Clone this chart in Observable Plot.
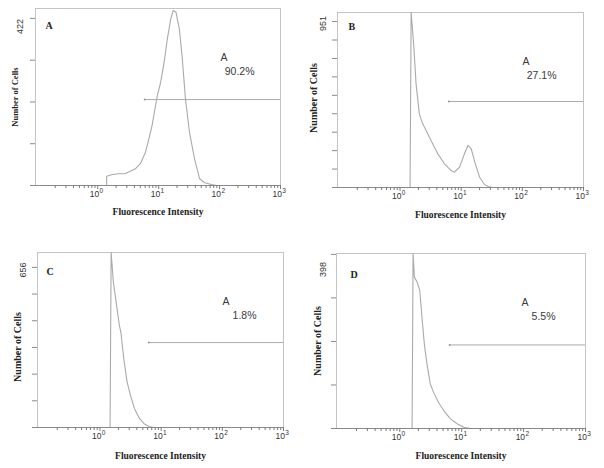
<!DOCTYPE html>
<html>
<head>
<meta charset="utf-8">
<script src="https://cdn.jsdelivr.net/npm/d3@7"></script>
<script src="https://cdn.jsdelivr.net/npm/@observablehq/plot@0.6"></script>
<style>
  html, body { margin: 0; padding: 0; background: #fff; }
  #wrap { position: relative; width: 604px; height: 468px; }
  #wrap > div { position: absolute; width: 302px; height: 234px; }
</style>
</head>
<body>
<div id="wrap">
  <div id="pA" style="left:0;top:0"></div>
  <div id="pB" style="left:302px;top:0"></div>
  <div id="pC" style="left:0;top:234px"></div>
  <div id="pD" style="left:302px;top:234px"></div>
</div>
<script>
// ---- data ----
const panelLetters = ["A", "B", "C", "D"];
const xAxisLabel = "Fluorescence Intensity";
const yAxisLabel = "Number of Cells";
const gateName = "A";
const decades = [1, 10, 100, 1000];
const minorTicks = [0.2,0.3,0.4,0.5,0.6,0.7,0.8,0.9, 2,3,4,5,6,7,8,9, 20,30,40,50,60,70,80,90, 200,300,400,500,600,700,800,900];

const fluorA = [1.40, 1.40, 1.69, 2.18, 2.82, 3.2, 4.14, 5.0, 6.07, 6.9, 7.8, 8.9, 9.5, 10.8, 12.3, 13.9, 15.8, 17.3, 19.2, 21.8, 24.2, 27.5, 32, 38.8, 47, 57, 73.6, 89];
const countA = [0, 23.5, 27, 29.5, 29.5, 34, 42, 55, 84, 118, 152, 202, 227, 261, 312, 371, 421, 442, 438, 396, 328, 219, 135, 67, 17, 7, 2.5, 0];

const fluorB = [1.46, 1.52, 1.67, 1.83, 2.07, 2.35, 2.84, 3.43, 4.15, 5.33, 6.86, 7.77, 9.38, 11.3, 12.9, 14.6, 17, 20, 24.1, 29, 33];
const countB = [0, 1003, 823, 594, 422, 365, 308, 250, 193, 136, 97, 88, 116, 193, 241, 222, 136, 59, 17, 2, 0];

const fluorC = [1.46, 1.52, 1.65, 1.83, 2.07, 2.21, 2.44, 2.77, 3.14, 3.65, 4.41, 5.33, 6.44, 7.8];
const countC = [0, 717, 597, 515, 419, 385, 283, 187, 133, 78, 37, 14, 3, 0];

const fluorD = [1.58, 1.64, 1.72, 1.9, 2.1, 2.29, 2.5, 2.76, 3.12, 3.53, 4.25, 5.13, 6.58, 8.45, 10.8, 13.8];
const countD = [0, 400, 346, 335, 316, 252, 191, 146, 101, 82, 59, 41, 22, 11, 3, 0];

const topCounts = [422, 951, 656, 398];      // labelled top tick of each panel
const tickSteps = [4, 9, 6, 4];              // number of y tick intervals
const yMaxima = [447, 1003, 717, 400];       // top of each frame
const gateStarts = [5.9, 6.28, 6.28, 6.4];   // marker "A" left end
const gateLevels = [217, 493, 348, 191];     // marker height
const gatePercents = ["90.2%", "27.1%", "1.8%", "5.5%"];

// ---- drawing ----
const serif = "'Liberation Serif', 'Times New Roman', serif";
const sans = "'Liberation Sans', Arial, sans-serif";

function drawPanel(i, fluor, count, layout) {
  const data = fluor.map((f, k) => ({f, c: count[k]}));
  const yTicks = d3.range(tickSteps[i] + 1).map(k => topCounts[i] * k / tickSteps[i]);
  const gate = [{x1: gateStarts[i], x2: 1000, y: gateLevels[i]}];
  const [mL, mR, mT, mB] = layout.m;
  const plot = Plot.plot({
    width: 302, height: 234,
    marginLeft: mL, marginRight: mR, marginTop: mT, marginBottom: mB,
    x: {type: "log", domain: [0.095, 1000], axis: null},
    y: {domain: [0, yMaxima[i]], axis: null},
    style: {background: "transparent", overflow: "visible", color: "#222"},
    marks: [
      Plot.frame({stroke: "#c4c4c4"}),
      Plot.line(data, {x: "f", y: "c", stroke: "#aaaaaa", strokeWidth: 1.1, clip: true}),
      Plot.ruleY(gate, {y: "y", x1: "x1", x2: "x2", stroke: "#acacac", strokeWidth: 1}),
      Plot.dot(gate, {x: "x1", y: "y", r: 1, fill: "#999", stroke: null}),
      Plot.ruleY([0], {stroke: "#8a8a8a"}),
      Plot.axisX({ticks: minorTicks, tickSize: 3, tickFormat: () => "", stroke: "#7a7a7a"}),
      Plot.axisX({ticks: decades, tickSize: 4, tickFormat: () => "", stroke: "#7a7a7a"}),
      Plot.axisY({ticks: yTicks, tickSize: 5, tickFormat: () => "", stroke: "#8a8a8a"}),
      Plot.text(decades, {x: d => d, text: () => "10", frameAnchor: "bottom", lineAnchor: "middle", dy: 8.5, dx: 1.5, textAnchor: "end", fontSize: 8.5, fontFamily: sans, fill: "#333"}),
      Plot.text(decades, {x: d => d, text: d => String(Math.round(Math.log10(d))), frameAnchor: "bottom", lineAnchor: "middle", dy: 5.5, dx: 1.8, textAnchor: "start", fontSize: 6.5, fontFamily: sans, fill: "#333"}),
      Plot.text([xAxisLabel], {text: d => d, frameAnchor: "bottom", lineAnchor: "middle", textAnchor: "middle", dy: layout.xl, fontSize: 9.5, fontWeight: "bold", fontFamily: serif, fill: "#222"}),
      Plot.text([yAxisLabel], {text: d => d, frameAnchor: "left", lineAnchor: "middle", textAnchor: "middle", dx: layout.yl[0], dy: layout.yl[1], rotate: -90, fontSize: layout.yl[2], fontWeight: "bold", fontFamily: serif, fill: "#222"}),
      Plot.text([topCounts[i]], {text: d => String(d), frameAnchor: "top-left", lineAnchor: "middle", textAnchor: "middle", dx: layout.top[0], dy: layout.top[1], rotate: -90, fontSize: 9, fontFamily: sans, fill: "#333"}),
      Plot.text([panelLetters[i]], {text: d => d, frameAnchor: "top-left", lineAnchor: "middle", dx: layout.letter[0], dy: layout.letter[1], textAnchor: "start", fontSize: 10, fontWeight: "bold", fontFamily: serif, fill: "#222"}),
      Plot.text([gateName], {text: d => d, frameAnchor: "top-left", lineAnchor: "middle", dx: 185, dy: 49, textAnchor: "start", fontSize: 10.5, fontFamily: sans, fill: "#3a3a3a"}),
      Plot.text([gatePercents[i]], {text: d => d, frameAnchor: "top-left", lineAnchor: "middle", dx: 219, dy: 63, textAnchor: "end", fontSize: 10.5, fontFamily: sans, fill: "#3a3a3a"})
    ]
  });
  document.getElementById(layout.id).appendChild(plot);
}

drawPanel(0, fluorA, countA, {id: "pA", m: [35, 22, 8, 49], xl: 26, yl: [-20, 0, 8.5], top: [-15, 18], letter: [10, 17]});
drawPanel(1, fluorB, countB, {id: "pB", m: [35, 21, 12, 47], xl: 27, yl: [-24, -2, 10], top: [-14, 11], letter: [11, 14]});
drawPanel(2, fluorC, countC, {id: "pC", m: [37, 19, 18, 41], xl: 28, yl: [-20, 7, 10], top: [-14, 17.5], letter: [9, 19]});
drawPanel(3, fluorD, countD, {id: "pD", m: [34, 19, 19, 40], xl: 27, yl: [-19, 0, 10], top: [-13, 16], letter: [14, 21]});
</script>
</body>
</html>
